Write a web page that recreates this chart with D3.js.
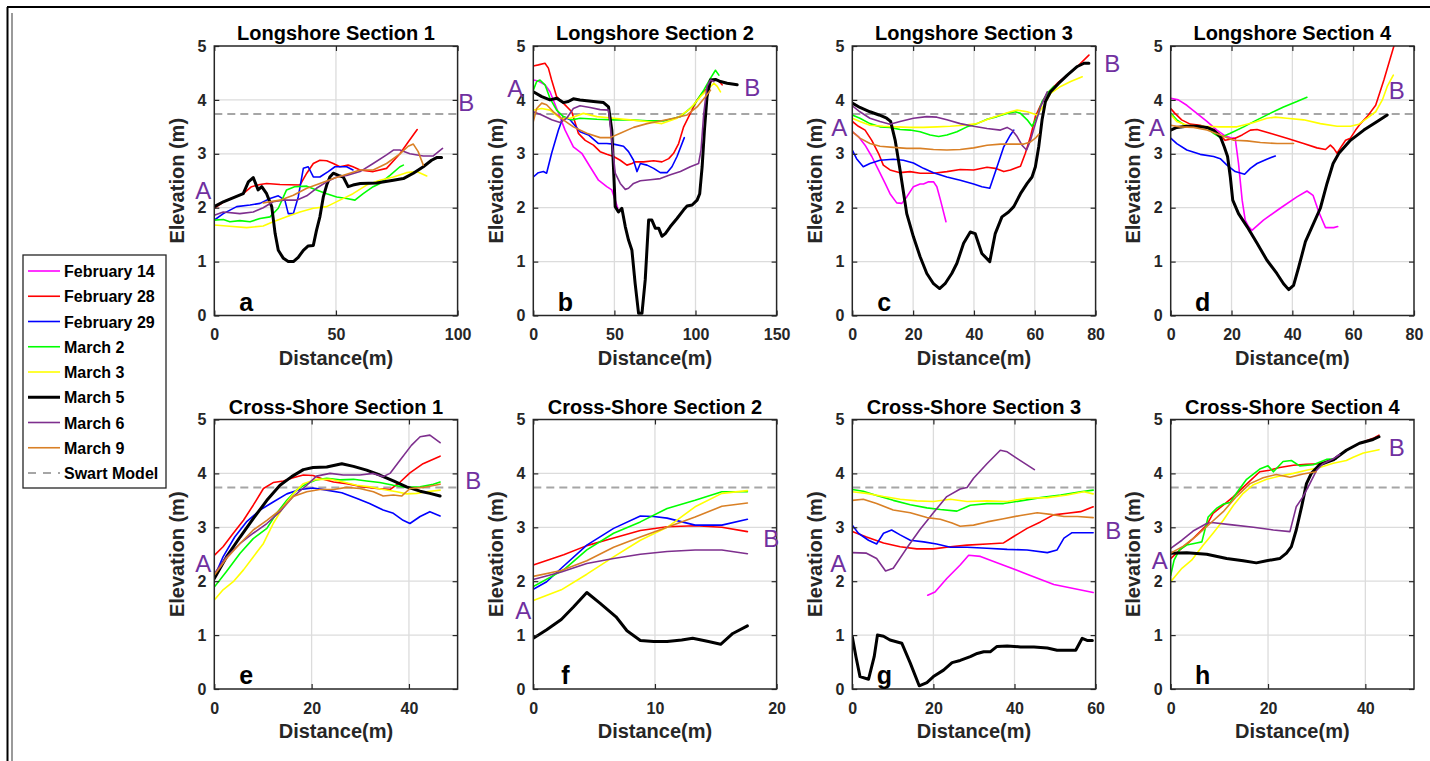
<!DOCTYPE html>
<html><head><meta charset="utf-8">
<script src="https://cdn.jsdelivr.net/npm/d3@7"></script>
<style>
body{margin:0;background:#fff}
svg{display:block}
text{font-family:"Liberation Sans",Arial,sans-serif}
</style>
</head><body>
<svg id="chart" width="1430" height="761"></svg>
<script>
// ---------- categories / labels ----------
const seriesNames  = ["February 14","February 28","February 29","March 2","March 3","March 5","March 6","March 9"];
const seriesKeys   = ["feb14","feb28","feb29","mar2","mar3","mar5","mar6","mar9"];
const seriesColors = ["#FF00FF","#FF0000","#0000FF","#00FF00","#FFFF00","#000000","#7E2F8E","#D98026"];
const swartName  = "Swart Model";
const swartLevel = 3.74;
const panelTitles  = ["Longshore Section 1","Longshore Section 2","Longshore Section 3","Longshore Section 4",
                      "Cross-Shore Section 1","Cross-Shore Section 2","Cross-Shore Section 3","Cross-Shore Section 4"];
const panelLetters = ["a","b","c","d","e","f","g","h"];
const xMaxes  = [100,150,80,80,50,20,60,50];
const xTickSets = [[0,50,100],[0,50,100,150],[0,20,40,60,80],[0,20,40,60,80],[0,20,40],[0,10,20],[0,20,40,60],[0,20,40]];
const yTickVals = [0,1,2,3,4,5];
const xLabel = "Distance(m)";
const yLabel = "Elevation (m)";

// ---------- series values [distance, elevation] ----------
// Panel a – Longshore Section 1
const a_feb28 = [[0,1.99],[5,2.14],[11.9,2.26],[15.3,2.39],[18.8,2.43],[21.5,2.45],[27,2.43],[35.2,2.42],[38,2.64],[40.7,2.82],[43.4,2.88],[46.2,2.87],[48.9,2.82],[51.6,2.76],[55,2.79],[57,2.76],[59.9,2.7],[65.3,2.67],[70.8,2.73],[76.3,3.0],[79.7,3.22],[83.4,3.45]];
const a_feb29 = [[0,1.77],[3.7,1.89],[9.2,2.02],[14.7,2.05],[18.8,2.08],[22.9,2.17],[26.3,2.22],[29,2.14],[30.4,1.89],[32.5,1.89],[34.5,2.2],[36.6,2.73],[38.6,2.76],[40.7,2.57],[43.4,2.57],[46.8,2.67],[49.6,2.76],[52.3,2.76],[54.4,2.76],[57,2.7]];
const a_mar2  = [[0,1.77],[3.7,1.78],[6.4,1.74],[10.5,1.76],[14.7,1.74],[18.8,1.8],[22.9,1.83],[26.3,1.99],[29.7,2.33],[33,2.39],[38,2.4],[42,2.33],[46.2,2.26],[50.3,2.2],[54.4,2.17],[57.8,2.14],[61.2,2.26],[65.3,2.39],[68.1,2.45],[72.2,2.6],[76.3,2.76],[77.7,2.79]];
const a_mar3  = [[0,1.68],[5,1.66],[13.3,1.63],[20.1,1.66],[24.2,1.74],[29.7,1.83],[35.2,1.92],[40.7,1.99],[46.2,2.02],[51.6,2.14],[57,2.26],[62.6,2.42],[68.1,2.51],[73.6,2.57],[79,2.65],[83.2,2.67],[87.3,2.59]];
const a_mar5  = [[0,2.02],[3.7,2.11],[11.9,2.26],[14,2.48],[16,2.56],[18,2.33],[19.5,2.39],[21.5,2.26],[23.6,2.02],[25,1.52],[26.3,1.21],[28.4,1.06],[30.4,1.0],[32.5,1.0],[34.5,1.08],[36.6,1.21],[38.6,1.29],[40.7,1.3],[42,1.58],[43.4,1.83],[44.8,2.2],[46.2,2.42],[47.5,2.57],[48.9,2.64],[51,2.6],[53,2.57],[55,2.39],[57,2.42],[60,2.45],[66.7,2.46],[73.6,2.51],[77.7,2.54],[81.8,2.64],[85.9,2.76],[89.3,2.88],[91.4,2.93],[93.4,2.93]];
const a_mar6  = [[0,1.86],[3.7,1.92],[10.5,1.89],[16,1.92],[20.1,2.0],[24.2,2.11],[28.4,2.14],[33.8,2.14],[38,2.22],[42,2.36],[46.2,2.48],[50.3,2.57],[54.4,2.6],[59.9,2.67],[65.3,2.82],[70.8,2.98],[73.6,3.07],[76.3,3.07],[80.4,3.0],[85.9,2.96],[90,2.96],[93.8,3.1]];
const a_mar9  = [[20.1,2.09],[27,2.14],[32.5,2.23],[38,2.36],[43.4,2.45],[48.9,2.54],[54.4,2.62],[59.9,2.7],[65.3,2.7],[70.8,2.82],[76.3,3.0],[79.7,3.14],[81.8,3.18],[83.8,3.04],[85.9,2.79]];

// Panel b – Longshore Section 2
const b_feb14 = [[0,4.37],[3.1,4.35],[7.2,4.28],[10.3,4.15],[14.4,3.84],[19.6,3.44],[24.7,3.13],[29.9,3.01],[35,2.76],[40.2,2.51],[45.3,2.39],[48.4,2.33],[50.5,2.14],[52.1,1.99]];
const b_feb28 = [[0,4.63],[3.1,4.65],[7.2,4.68],[9.3,4.59],[11.3,4.37],[14.4,4.06],[18.5,3.94],[23.7,3.78],[27.8,3.38],[32,3.25],[37.1,3.16],[41.2,3.04],[45.3,2.99],[49.5,2.95],[53.6,2.88],[57.7,2.79],[60.8,2.82],[62.8,2.85],[68,2.85],[74.2,2.87],[79.3,2.85],[83.5,2.91],[86.5,3.01],[89.6,3.19],[92.7,3.5],[96.8,3.75],[101,4.0],[104.1,4.12],[107.1,4.21],[110.2,4.37],[113.7,4.37],[116.4,4.28]];
const b_feb29 = [[0,2.57],[3.1,2.65],[6.2,2.67],[8.2,2.64],[11.3,3.01],[15.5,3.44],[18.5,3.69],[22.7,3.63],[28.8,3.41],[34,3.35],[40.2,3.19],[45.3,3.19],[49.5,3.18],[55.6,3.14],[58.7,3.04],[61.8,2.88],[63.9,2.67],[66,2.82],[70.1,2.79],[74.2,2.73],[78.3,2.65],[82.4,2.65],[85.5,2.76],[88.6,2.95],[93.1,3.3]];
const b_mar2  = [[0,4.18],[2.1,4.34],[4.1,4.37],[7.2,4.28],[10.3,4.03],[14.4,3.81],[18.5,3.69],[23.7,3.63],[28.8,3.66],[39.2,3.64],[49.5,3.63],[59.8,3.63],[70.1,3.61],[80.4,3.61],[90.7,3.69],[98.9,3.9],[105.1,4.18],[109.2,4.4],[112.3,4.55],[114.4,4.46]];
const b_mar3  = [[0,3.81],[5.2,3.84],[10.3,3.81],[16.5,3.66],[22.7,3.66],[30.9,3.75],[39.2,3.69],[49.5,3.66],[59.8,3.63],[70.1,3.6],[79.3,3.56],[88.6,3.66],[96.8,3.84],[103,4.06],[107.1,4.18],[111.3,4.31],[113.4,4.25],[115.4,4.15]];
const b_mar5  = [[0,4.15],[5.2,4.06],[10.3,4.0],[14.4,4.03],[18.5,3.95],[21.6,3.97],[24.7,4.02],[28.8,4.0],[37.1,3.97],[43.3,3.95],[46.4,3.87],[48.4,3.44],[49.5,2.7],[50.5,2.02],[52.5,1.92],[54.6,1.99],[56.7,1.65],[58.7,1.4],[60.8,1.21],[62.8,0.59],[64.9,0.04],[67,0.04],[69,0.66],[71.1,1.77],[73.1,1.77],[75.2,1.62],[77.3,1.62],[79.3,1.47],[81.4,1.52],[84.5,1.65],[88.6,1.8],[92.7,1.96],[94.8,2.03],[97.9,2.05],[101,2.14],[102.6,2.26],[104.1,2.76],[105.5,3.44],[107.1,4.06],[109.2,4.37],[112.3,4.38],[115.4,4.34],[119.5,4.31],[125.7,4.28]];
const b_mar6  = [[0,3.78],[5.2,3.72],[11.3,3.63],[16.5,3.58],[20.6,3.66],[24.7,3.84],[28.8,3.89],[35,3.86],[41.2,3.82],[46.4,3.81],[48.4,3.25],[50.5,2.64],[53.6,2.45],[56.7,2.34],[58.7,2.36],[61.8,2.45],[66,2.5],[72.1,2.52],[78.3,2.54],[84.5,2.61],[90.7,2.67],[96.8,2.76],[101.9,2.82],[103.4,3.07],[105.1,3.75],[107.1,4.25],[109.2,4.37],[111.3,4.34]];
const b_mar9  = [[0,3.6],[2.1,3.84],[5.2,3.94],[8.2,3.91],[12.4,3.78],[18.5,3.63],[24.7,3.5],[33,3.38],[41.2,3.3],[47.4,3.3],[53.6,3.38],[61.8,3.49],[70.1,3.56],[78.3,3.61],[86.5,3.66],[94.8,3.72],[101,3.87],[106.1,4.06],[109.2,4.18]];

// Panel c – Longshore Section 3
const c_feb14 = [[0,3.41],[2,3.32],[4.2,3.16],[6.4,2.95],[8.6,2.7],[10.8,2.45],[12.4,2.26],[14.6,2.09],[16.3,2.08],[17.9,2.2],[20.1,2.39],[22.3,2.44],[23.4,2.44],[25.1,2.48],[26.7,2.48],[27.8,2.39],[29,2.14],[30.8,1.74]];
const c_feb28 = [[0,3.6],[2,3.51],[4.2,3.44],[6.4,3.25],[8.6,3.01],[10.2,2.79],[12.4,2.7],[15.7,2.65],[19,2.67],[22.3,2.64],[26.7,2.64],[31.1,2.67],[35.5,2.71],[39.9,2.7],[44.3,2.75],[47,2.73],[49.8,2.67],[52,2.7],[55.3,2.77],[56.9,3.01],[58.6,3.32],[60.2,3.69],[61.9,3.9],[64.1,4.12],[67.4,4.31],[70.7,4.46],[74,4.62],[77.8,4.83]];
const c_feb29 = [[0,3.07],[1.4,2.91],[3.6,2.76],[5.8,2.82],[9.1,2.88],[13.5,2.9],[16.8,2.88],[20.1,2.83],[23.4,2.73],[26.7,2.65],[31.1,2.57],[35.5,2.51],[39.9,2.44],[42.6,2.39],[45.2,2.36],[47.6,2.76],[49.8,3.13],[52,3.35],[53.1,3.44]];
const c_mar2  = [[0,3.72],[2.5,3.66],[5.8,3.56],[9.1,3.5],[12.4,3.49],[15.7,3.45],[19,3.44],[22.3,3.41],[25.6,3.35],[28.4,3.32],[31.1,3.35],[34.4,3.41],[37.7,3.5],[41,3.56],[44.3,3.64],[47.6,3.69],[50.9,3.75],[53.6,3.78],[55.3,3.75],[57.5,3.63],[59.1,3.51],[60.8,3.69],[62.4,3.97],[64.6,4.15],[66.3,4.25]];
const c_mar3  = [[0,3.66],[2.5,3.6],[5.8,3.53],[10.2,3.51],[14.6,3.5],[19,3.49],[23.4,3.49],[27.8,3.5],[32.2,3.51],[36.6,3.53],[41,3.56],[45.4,3.66],[48.7,3.72],[52,3.78],[54.2,3.81],[57.5,3.78],[60.8,3.72],[63,3.9],[65.2,4.12],[68.5,4.25],[71.8,4.34],[75.6,4.43]];
const c_mar5  = [[0,3.94],[2.5,3.86],[5.8,3.78],[8.8,3.72],[11.3,3.66],[12.6,3.6],[14.1,3.25],[15.7,2.7],[17.9,1.89],[20.1,1.46],[22.3,1.09],[24.5,0.78],[26.7,0.59],[28.7,0.5],[30.5,0.59],[32.7,0.78],[34.4,0.97],[36.6,1.34],[38.8,1.55],[40.4,1.52],[42.6,1.15],[45.2,1.0],[47,1.52],[49.2,1.83],[51.4,1.92],[53.1,2.02],[55.3,2.26],[57.5,2.45],[59.1,2.57],[60.2,2.76],[61.3,3.13],[62.4,3.63],[63.5,3.97],[65.2,4.15],[67.9,4.31],[70.7,4.46],[74,4.62],[76.2,4.68],[77.8,4.68]];
const c_mar6  = [[0,3.89],[2.5,3.78],[5.8,3.66],[9.1,3.6],[12.4,3.55],[15.7,3.6],[20.1,3.66],[24.5,3.69],[27.8,3.68],[31.1,3.63],[35.5,3.56],[39.9,3.51],[44.3,3.47],[48.7,3.44],[50.9,3.49],[52.5,3.44],[54.2,3.32],[55.8,3.16],[57.3,3.07],[58.6,3.25],[60.2,3.56],[61.9,3.87],[64.1,4.15]];
const c_mar9  = [[0,3.41],[2.5,3.29],[5.8,3.19],[9.1,3.14],[13.5,3.12],[17.9,3.1],[22.3,3.1],[26.7,3.08],[31.1,3.07],[35.5,3.08],[39.9,3.11],[44.3,3.16],[48.7,3.18],[53.1,3.18],[56.4,3.18],[58.6,3.22],[60.2,3.29],[61.3,3.36]];

// Panel d – Longshore Section 4
const d_feb14 = [[0,4.03],[2.5,4.0],[5.3,3.9],[8.6,3.75],[11.9,3.6],[15.2,3.44],[17.4,3.35],[20.1,3.29],[21.2,3.29],[22.3,2.82],[23.5,2.14],[24.5,1.77],[25.6,1.65],[26.7,1.58],[30.5,1.77],[36,1.99],[41.5,2.2],[44.8,2.31],[46.8,2.23],[48.7,1.92],[50.9,1.63],[53.6,1.63],[54.9,1.65]];
const d_feb28 = [[0,3.84],[1.4,3.75],[3.6,3.63],[6.4,3.55],[9.7,3.53],[13,3.47],[15.7,3.38],[17.9,3.25],[21.2,3.29],[23.5,3.35],[26.2,3.44],[28.4,3.45],[32.7,3.38],[38.2,3.29],[43.7,3.19],[48.1,3.11],[50.9,3.08],[52.5,3.16],[53.6,3.1],[54.7,3.01],[56.4,3.16],[57.5,3.25],[59.1,3.29],[60.8,3.44],[62.4,3.56],[64.6,3.69],[67.4,3.9],[70.1,4.37],[73.4,5.0]];
const d_feb29 = [[0,3.29],[2,3.19],[5.3,3.07],[9.7,2.99],[14.1,2.95],[16.3,2.91],[18.5,2.79],[21.2,2.67],[24.3,2.62],[26.2,2.73],[28.4,2.82],[31.6,2.9],[34.4,2.96]];
const d_mar2  = [[0,3.75],[2,3.63],[5.3,3.51],[8.6,3.5],[11.9,3.49],[14.1,3.38],[16.3,3.3],[19.6,3.38],[24,3.5],[28.4,3.63],[32.7,3.75],[37.1,3.87],[41.5,3.97],[44.8,4.05]];
const d_mar3  = [[0,3.73],[2,3.6],[5.3,3.53],[10.8,3.51],[16.3,3.5],[21.8,3.5],[27.3,3.58],[31.6,3.66],[34.4,3.68],[38.2,3.66],[43.7,3.63],[49.2,3.56],[54.7,3.51],[59.1,3.51],[61.9,3.55],[64.6,3.66],[67.4,3.78],[69.6,4.0],[71.2,4.25],[73.2,4.46]];
const d_mar5  = [[0,3.44],[2,3.49],[5.3,3.51],[8.6,3.51],[11.9,3.49],[14.1,3.44],[16.3,3.32],[17.6,3.13],[18.7,2.95],[19.6,2.57],[20.4,2.14],[22.3,1.89],[25.1,1.65],[28.4,1.34],[31.6,1.03],[34.9,0.78],[37.1,0.59],[38.8,0.48],[40.4,0.56],[42.1,0.9],[44.3,1.37],[46.5,1.65],[49.2,1.99],[51.4,2.45],[53.4,2.82],[55.3,3.01],[59.1,3.25],[63.5,3.44],[67.9,3.6],[71.2,3.72]];
const d_mar9  = [[0,3.53],[3.1,3.5],[7.5,3.49],[11.9,3.44],[16.3,3.35],[20.7,3.25],[25.1,3.24],[29.5,3.21],[35,3.19],[40.4,3.19]];

// Panel e – Cross-Shore Section 1
const e_feb28 = [[0,2.48],[1.8,2.64],[3.9,2.89],[6,3.13],[8,3.41],[10.1,3.72],[12.1,3.83],[14.2,3.86],[16.2,3.92],[18.3,3.97],[20.3,3.96],[22.4,3.89],[24.5,3.84],[27.2,3.81],[29.9,3.76],[33.4,3.72],[36.1,3.7],[38.2,3.84],[40.2,4.01],[42.9,4.18],[46.4,4.32]];
const e_feb29 = [[0,2.08],[1.8,2.45],[4.2,2.82],[6.6,3.1],[9.4,3.32],[12.1,3.47],[14.9,3.62],[17.6,3.7],[20.3,3.73],[23.1,3.69],[26.2,3.64],[29.2,3.54],[31.9,3.44],[34.7,3.32],[36.8,3.26],[38.8,3.13],[40.2,3.07],[42.3,3.2],[44.3,3.29],[46.4,3.21]];
const e_mar2  = [[0,1.89],[2.5,2.18],[5.3,2.52],[8,2.79],[10.8,2.98],[12.8,3.26],[14.9,3.5],[16.9,3.69],[19,3.81],[21,3.88],[23.1,3.91],[25.8,3.88],[28.6,3.89],[31.3,3.86],[34,3.83],[36.8,3.78],[39.5,3.74],[42.3,3.75],[45,3.8],[46.4,3.84]];
const e_mar3  = [[0,1.65],[1.8,1.84],[3.9,1.99],[6,2.21],[8,2.45],[10.1,2.7],[12.1,3.07],[14.2,3.38],[16.2,3.62],[18.3,3.81],[21,3.89],[23.8,3.89],[26.5,3.84],[29.2,3.78],[32,3.75],[34.7,3.7],[37.5,3.66],[39.5,3.62],[41.6,3.63],[43.6,3.66],[46.4,3.69]];
const e_mar5  = [[0,2.05],[2.5,2.45],[5.3,2.82],[8,3.16],[10.8,3.5],[13.5,3.78],[15.9,3.94],[18.3,4.07],[20.3,4.11],[23.1,4.12],[26.2,4.18],[28.6,4.13],[31.3,4.06],[34,3.97],[36.8,3.86],[39.5,3.75],[42.3,3.67],[44.3,3.63],[46.4,3.58]];
const e_mar6  = [[0,2.14],[2.5,2.45],[5.3,2.7],[8,2.89],[10.8,3.07],[13.5,3.29],[16.2,3.57],[19,3.78],[21,3.95],[23.8,4.0],[26.5,3.97],[29.9,3.97],[32.7,4.0],[34.7,3.94],[36.1,4.0],[38.2,4.25],[40.5,4.52],[42.3,4.68],[44.3,4.71],[46.4,4.57]];
const e_mar9  = [[0,2.11],[2.5,2.42],[5.3,2.7],[8,2.95],[10.8,3.13],[13.5,3.32],[16.2,3.57],[19,3.66],[21.7,3.7],[24.5,3.7],[27.2,3.74],[29.9,3.72],[32.7,3.66],[34.7,3.58],[36.8,3.6],[38.5,3.58],[40.2,3.72],[42.9,3.74],[46.4,3.8]];

// Panel f – Cross-Shore Section 2
const f_feb28 = [[0,2.3],[2.5,2.49],[4.4,2.66],[6.6,2.8],[8.8,2.94],[11,3.01],[13.3,3.03],[15.5,3.0],[17.6,2.92]];
const f_feb29 = [[0,1.85],[1.1,1.99],[2.3,2.24],[4.4,2.67],[6.6,2.98],[8.8,3.21],[9.9,3.2],[11,3.17],[13.3,3.04],[15.5,3.04],[17.6,3.15]];
const f_mar2  = [[0,1.9],[2.5,2.21],[4.4,2.58],[6.6,2.89],[8.8,3.1],[11,3.35],[13.3,3.5],[15.5,3.66],[17.6,3.66]];
const f_mar3  = [[0,1.64],[2.3,1.84],[4.4,2.13],[6.6,2.45],[8.8,2.76],[11,3.0],[13.3,3.38],[15.5,3.63],[17.6,3.68]];
const f_mar5  = [[0,0.94],[1.1,1.1],[2.3,1.29],[3.3,1.52],[4.4,1.79],[5.5,1.59],[6.8,1.34],[7.7,1.08],[8.8,0.9],[9.9,0.88],[11,0.88],[12.2,0.91],[13.1,0.94],[14.4,0.88],[15.4,0.83],[16.4,1.03],[17.6,1.17]];
const f_mar6  = [[0,2.03],[2.3,2.17],[4.4,2.33],[6.6,2.42],[8.8,2.5],[11,2.55],[13.3,2.58],[15.5,2.58],[17.6,2.51]];
const f_mar9  = [[0,2.09],[2.3,2.2],[4.4,2.38],[6.6,2.63],[8.8,2.82],[11,3.0],[13.3,3.19],[15.5,3.39],[17.6,3.45]];

// Panel g – Cross-Shore Section 3
const g_feb14 = [[18.6,1.74],[20.4,1.8],[23.3,2.05],[26.6,2.3],[28.7,2.48],[31.6,2.46],[36.5,2.32],[43.1,2.13],[49.7,1.94],[59.4,1.79]];
const g_feb28 = [[0,2.92],[3.5,2.82],[7.7,2.71],[11.8,2.64],[15.9,2.6],[20,2.6],[24.2,2.64],[28.3,2.67],[33.2,2.69],[37.3,2.71],[39.8,2.83],[43.1,2.98],[46.4,3.1],[49.6,3.23],[53,3.26],[56.3,3.29],[59.4,3.38]];
const g_feb29 = [[0,3.04],[1.5,2.89],[4,2.76],[6,2.69],[7.7,2.89],[9.7,2.95],[11.8,2.86],[14.3,2.76],[17.6,2.73],[20.8,2.69],[24.2,2.63],[28.3,2.63],[33.2,2.61],[38.2,2.59],[43.1,2.58],[48.1,2.53],[50.5,2.58],[52.2,2.8],[54.2,2.9],[56.7,2.9],[59.4,2.9]];
const g_mar2  = [[0,3.7],[2.7,3.67],[6,3.59],[10.1,3.5],[14.3,3.42],[18.4,3.36],[21.7,3.33],[25.8,3.3],[29.1,3.41],[33.2,3.44],[37.3,3.44],[41.5,3.49],[46.4,3.55],[51.4,3.6],[56.3,3.66],[59.4,3.69]];
const g_mar3  = [[0,3.66],[3.5,3.63],[7.7,3.57],[11.8,3.52],[15.9,3.49],[20,3.48],[24.2,3.52],[28.3,3.48],[33.2,3.49],[38.2,3.48],[43.1,3.54],[48.1,3.55],[53,3.6],[57.1,3.66],[59.4,3.62]];
const g_mar5  = [[0,0.97],[0.9,0.6],[1.9,0.23],[4,0.18],[5.4,0.6],[6.2,1.0],[7.7,0.98],[9.3,0.91],[12.2,0.85],[14.3,0.48],[16.5,0.06],[18.4,0.12],[20,0.23],[22.5,0.35],[24.6,0.49],[26.6,0.53],[29.1,0.6],[30.8,0.66],[32.4,0.69],[34,0.69],[35.7,0.79],[38.2,0.8],[41.5,0.78],[44.8,0.78],[48.1,0.76],[50.5,0.72],[53,0.72],[55.1,0.72],[56.7,0.94],[57.9,0.9],[59.2,0.9]];
const g_mar6  = [[0,2.53],[3.5,2.52],[6,2.42],[8.2,2.19],[10.1,2.24],[13.4,2.61],[16.7,2.96],[20,3.27],[23.3,3.57],[26.6,3.71],[28.3,3.74],[29.9,3.91],[33.2,4.18],[36.5,4.43],[38.2,4.4],[40.6,4.28],[44.9,4.07]];
const g_mar9  = [[0,3.5],[2.7,3.52],[6,3.44],[10.1,3.32],[14.3,3.27],[18.4,3.18],[21.7,3.15],[24.6,3.08],[26.6,3.02],[29.9,3.04],[33.2,3.1],[37.3,3.16],[41.5,3.22],[45.6,3.27],[48.9,3.24],[52.2,3.2],[55.5,3.2],[59.4,3.18]];

// Panel h – Cross-Shore Section 4
const h_feb28 = [[0,2.42],[1.9,2.58],[4.6,2.79],[7.4,3.04],[8.7,3.26],[10.8,3.41],[12.9,3.57],[15.6,3.8],[18.3,4.03],[20.3,4.06],[22.4,4.11],[25.2,4.15],[27.9,4.17],[30.6,4.18],[33.4,4.26],[36.1,4.43],[38.8,4.56],[41.6,4.65],[42.8,4.71]];
const h_mar2  = [[0,2.11],[0.7,2.39],[1.8,2.58],[3.3,2.67],[5.3,2.71],[6.4,2.73],[7.7,3.19],[9.4,3.35],[10.8,3.43],[12.2,3.46],[13.5,3.63],[15.6,3.89],[18.3,4.08],[20,4.14],[21.1,4.03],[23.1,4.22],[24.8,4.24],[26.5,4.14],[29.3,4.16],[32,4.26],[34,4.27]];
const h_mar3  = [[0,1.99],[2.3,2.24],[4.3,2.39],[6.7,2.67],[8.7,2.89],[10.8,3.13],[12.9,3.41],[14.9,3.63],[17,3.79],[19.7,3.89],[22.4,3.95],[25.2,4.0],[27.9,4.06],[30.6,4.11],[33.4,4.19],[36.1,4.24],[37.5,4.3],[39.6,4.38],[42.8,4.44]];
const h_mar5  = [[0,2.52],[3.3,2.53],[7.4,2.5],[11.5,2.42],[14.9,2.38],[17.6,2.34],[19.7,2.38],[22.4,2.42],[23.8,2.52],[24.8,2.64],[25.8,2.95],[26.9,3.38],[27.9,3.81],[28.9,4.0],[30.6,4.16],[33.4,4.25],[36.1,4.43],[38.8,4.56],[41.6,4.63],[42.8,4.68]];
const h_mar6  = [[0,2.61],[2.3,2.76],[4.6,2.93],[7.4,3.07],[8.4,3.09],[12.2,3.05],[17,3.0],[21.1,2.95],[24.5,2.92],[25.8,3.38],[27.2,3.57],[28.6,3.81],[30,4.06],[31.3,4.18],[33.4,4.27],[34.7,4.35]];
const h_mar9  = [[0,2.52],[2.6,2.65],[5.3,2.84],[8.1,3.07],[10.8,3.29],[13.5,3.57],[16.3,3.81],[19,3.92],[21.7,3.98],[24.5,3.93],[27.2,3.99],[29.9,4.03]];

// panel -> series table built from the named arrays
const panelSeries = [
  {feb28:a_feb28, feb29:a_feb29, mar2:a_mar2, mar3:a_mar3, mar5:a_mar5, mar6:a_mar6, mar9:a_mar9},
  {feb14:b_feb14, feb28:b_feb28, feb29:b_feb29, mar2:b_mar2, mar3:b_mar3, mar5:b_mar5, mar6:b_mar6, mar9:b_mar9},
  {feb14:c_feb14, feb28:c_feb28, feb29:c_feb29, mar2:c_mar2, mar3:c_mar3, mar5:c_mar5, mar6:c_mar6, mar9:c_mar9},
  {feb14:d_feb14, feb28:d_feb28, feb29:d_feb29, mar2:d_mar2, mar3:d_mar3, mar5:d_mar5, mar9:d_mar9},
  {feb28:e_feb28, feb29:e_feb29, mar2:e_mar2, mar3:e_mar3, mar5:e_mar5, mar6:e_mar6, mar9:e_mar9},
  {feb28:f_feb28, feb29:f_feb29, mar2:f_mar2, mar3:f_mar3, mar5:f_mar5, mar6:f_mar6, mar9:f_mar9},
  {feb14:g_feb14, feb28:g_feb28, feb29:g_feb29, mar2:g_mar2, mar3:g_mar3, mar5:g_mar5, mar6:g_mar6, mar9:g_mar9},
  {feb28:h_feb28, mar2:h_mar2, mar3:h_mar3, mar5:h_mar5, mar6:h_mar6, mar9:h_mar9}
];

// ---------- layout ----------
const colLeft = [214.3, 533.3, 852.3, 1170.7];
const rowTop  = [46, 419.5];
const plotW = 243.3, plotH = 269.5;
// A/B annotation offsets relative to each plot's top-left corner
const labelA = [[-11,144],[-18,42],[-13,81],[-14,81],[-11,144],[-10,191],[-14,144],[-11,141]];
const labelB = [[252,56],[219,41],[260,17],[226,44],[259,61],[238,119],[261,111],[226,28]];

const axisCol = "#262626";
const svg = d3.select("#chart");

// outer frame of the figure
svg.append("line").attr("x1",7).attr("y1",7).attr("x2",1430).attr("y2",7).attr("stroke","#000").attr("stroke-width",2);
svg.append("line").attr("x1",7.5).attr("y1",7).attr("x2",7.5).attr("y2",761).attr("stroke","#000").attr("stroke-width",2);
svg.append("line").attr("x1",12).attr("y1",13).attr("x2",12).attr("y2",761).attr("stroke","#9a9a9a").attr("stroke-width",2);

panelTitles.forEach((title, p) => {
  const left = colLeft[p % 4], top = rowTop[Math.floor(p / 4)];
  const g = svg.append("g").attr("transform", `translate(${left},${top})`);
  const x = d3.scaleLinear().domain([0, xMaxes[p]]).range([0, plotW]);
  const y = d3.scaleLinear().domain([0, 5]).range([plotH, 0]);

  // grid
  g.append("g").selectAll("line").data(xTickSets[p].filter(v => v > 0 && v < xMaxes[p])).join("line")
    .attr("x1", d => x(d)).attr("x2", d => x(d)).attr("y1", 0).attr("y2", plotH)
    .attr("stroke", "#dcdcdc").attr("stroke-width", 1.3);
  g.append("g").selectAll("line").data(yTickVals.filter(v => v > 0 && v < 5)).join("line")
    .attr("y1", d => y(d)).attr("y2", d => y(d)).attr("x1", 0).attr("x2", plotW)
    .attr("stroke", "#dcdcdc").attr("stroke-width", 1.3);

  // swart model
  g.append("line").attr("x1", 0).attr("x2", plotW).attr("y1", y(swartLevel)).attr("y2", y(swartLevel))
    .attr("stroke", "#a6a6a6").attr("stroke-width", 2).attr("stroke-dasharray", "8,5");

  // clip
  const cid = "clip" + p;
  g.append("clipPath").attr("id", cid).append("rect").attr("x", 0).attr("y", 0).attr("width", plotW).attr("height", plotH);

  const line = d3.line().x(d => x(d[0])).y(d => y(d[1]));
  const lines = g.append("g").attr("clip-path", `url(#${cid})`);
  seriesKeys.forEach((k, i) => {
    const pts = panelSeries[p][k];
    if (!pts) return;
    lines.append("path").datum(pts).attr("d", line).attr("fill", "none")
      .attr("stroke", seriesColors[i]).attr("stroke-width", k === "mar5" ? 3 : 1.6)
      .attr("stroke-linejoin", "round").attr("stroke-linecap", "round");
  });

  // axes (ticks inward on all sides)
  const tickStyle = sel => { sel.select(".domain").remove(); sel.selectAll(".tick line").attr("stroke", axisCol).attr("stroke-width", 1.2); };
  const xb = g.append("g").attr("transform", `translate(0,${plotH})`)
    .call(d3.axisBottom(x).tickValues(xTickSets[p]).tickSize(-5).tickPadding(13.5).tickFormat(d3.format("d")));
  tickStyle(xb);
  xb.selectAll("text").attr("fill", axisCol).attr("font-size", 16).attr("font-weight", "bold")
    .attr("font-family", '"Liberation Sans",Arial,sans-serif');
  const xt = g.append("g").call(d3.axisTop(x).tickValues(xTickSets[p]).tickSize(-5).tickFormat(""));
  tickStyle(xt);
  const yl = g.append("g").call(d3.axisLeft(y).tickValues(yTickVals).tickSize(-5).tickPadding(8).tickFormat(d3.format("d")));
  tickStyle(yl);
  yl.selectAll("text").attr("fill", axisCol).attr("font-size", 16).attr("font-weight", "bold")
    .attr("font-family", '"Liberation Sans",Arial,sans-serif');
  const yr = g.append("g").attr("transform", `translate(${plotW},0)`)
    .call(d3.axisRight(y).tickValues(yTickVals).tickSize(-5).tickFormat(""));
  tickStyle(yr);

  g.append("rect").attr("x", 0).attr("y", 0).attr("width", plotW).attr("height", plotH)
    .attr("fill", "none").attr("stroke", axisCol).attr("stroke-width", 1.5);

  // title + axis labels
  g.append("text").attr("x", plotW / 2).attr("y", -6).attr("text-anchor", "middle")
    .attr("font-size", 20).attr("font-weight", "bold").attr("fill", "#000").text(title);
  g.append("text").attr("x", plotW / 2).attr("y", plotH + 49).attr("text-anchor", "middle")
    .attr("font-size", 20).attr("font-weight", "bold").attr("fill", axisCol).text(xLabel);
  g.append("text").attr("transform", `translate(-36,${plotH / 2}) rotate(-90)`)
    .attr("text-anchor", "middle").attr("dominant-baseline", "middle")
    .attr("font-size", 20).attr("font-weight", "bold").attr("fill", axisCol).text(yLabel);

  // panel letter
  g.append("text").attr("x", 32).attr("y", plotH - 5).attr("text-anchor", "middle")
    .attr("font-family", "Lato,'Open Sans',sans-serif").attr("font-size", 25).attr("font-weight", "bold")
    .attr("fill", "#000").text(panelLetters[p]);

  // A / B annotations
  [["A", labelA[p]], ["B", labelB[p]]].forEach(([t, pos]) => {
    g.append("text").attr("x", pos[0]).attr("y", pos[1]).attr("text-anchor", "middle")
      .attr("dominant-baseline", "central")
      .attr("font-family", "Lato,'Open Sans',sans-serif").attr("font-size", 24)
      .attr("fill", "#7030A0").text(t);
  });
});

// ---------- legend ----------
const lg = svg.append("g");
lg.append("rect").attr("x", 23).attr("y", 255).attr("width", 143).attr("height", 233)
  .attr("fill", "#fff").attr("stroke", axisCol).attr("stroke-width", 1.3);
const legendItems = seriesNames.map((n, i) => ({name: n, color: seriesColors[i], w: seriesKeys[i] === "mar5" ? 3 : 1.6, dash: null}))
  .concat([{name: swartName, color: "#a6a6a6", w: 2, dash: "8,7"}]);
const ly = d3.scaleLinear().domain([0, legendItems.length - 1]).range([271, 473]);
legendItems.forEach((it, i) => {
  lg.append("line").attr("x1", 28).attr("x2", 60).attr("y1", ly(i)).attr("y2", ly(i))
    .attr("stroke", it.color).attr("stroke-width", it.w).attr("stroke-dasharray", it.dash);
  lg.append("text").attr("x", 64).attr("y", ly(i) + 6).attr("font-size", 16).attr("font-weight", "bold")
    .attr("fill", "#000").text(it.name);
});
</script>
</body></html>
